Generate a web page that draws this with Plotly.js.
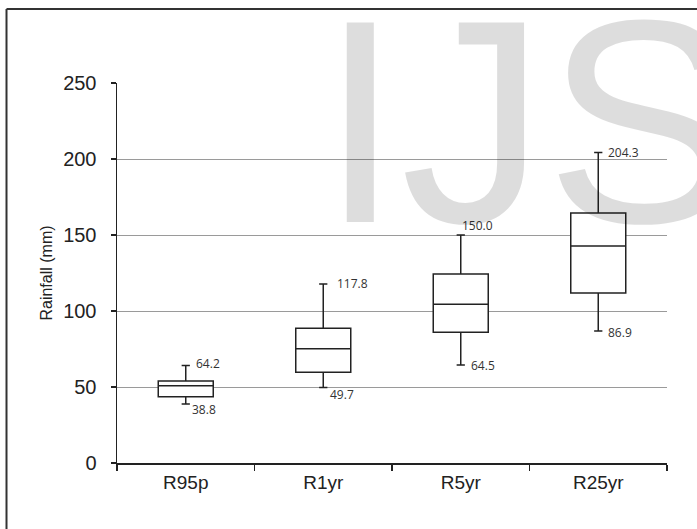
<!DOCTYPE html>
<html>
<head>
<meta charset="utf-8">
<script src="https://cdn.plot.ly/plotly-3.0.1.min.js"></script>
<style>html,body{margin:0;padding:0;background:#fff;}#chart{width:697px;height:529px;}</style>
</head>
<body>
<div id="chart"></div>
<script>
// Data
const categories = ["R95p", "R1yr", "R5yr", "R25yr"];
const lowerWhisker = [38.8, 49.7, 64.5, 86.9];
const q1Values = [43.6, 59.7, 86.0, 111.8];
const medianValues = [50.9, 75.2, 104.4, 142.8];
const q3Values = [53.9, 88.6, 124.3, 164.5];
const upperWhisker = [64.2, 117.8, 150.0, 204.3];
const yTickValues = [0, 50, 100, 150, 200, 250];

// label offsets (pixels) for whisker value labels: [xshift, yshift]
const upperLabelShift = [[8, 2], [12, 0], [-1, 10], [8, 0]];
const lowerLabelShift = [[4, -5], [5, -7], [8, -1], [8, -2]];

const trace = {
  type: "box",
  x: categories,
  q1: q1Values,
  median: medianValues,
  q3: q3Values,
  lowerfence: lowerWhisker,
  upperfence: upperWhisker,
  width: 0.4,
  whiskerwidth: 0.15,
  fillcolor: "#ffffff",
  line: { color: "#222222", width: 1.5 },
  hoverinfo: "skip",
  showlegend: false
};

const annotations = [];
categories.forEach((c, i) => {
  annotations.push({
    xref: "x", yref: "y", x: c, y: upperWhisker[i],
    text: upperWhisker[i].toFixed(1), showarrow: false,
    xanchor: "left", yanchor: "middle",
    xshift: upperLabelShift[i][0], yshift: upperLabelShift[i][1],
    font: { family: "Open Sans, sans-serif", size: 12, color: "#333333" }
  });
  annotations.push({
    xref: "x", yref: "y", x: c, y: lowerWhisker[i],
    text: lowerWhisker[i].toFixed(1), showarrow: false,
    xanchor: "left", yanchor: "middle",
    xshift: lowerLabelShift[i][0], yshift: lowerLabelShift[i][1],
    font: { family: "Open Sans, sans-serif", size: 12, color: "#333333" }
  });
});
// watermark
annotations.push({
  xref: "paper", yref: "paper", x: 0.3655, y: 0.9,
  xanchor: "left", yanchor: "middle",
  text: "IJS", showarrow: false,
  font: { family: "Liberation Sans, Arial, sans-serif", size: 290, color: "rgba(0,0,0,0.135)" }
});

const layout = {
  width: 697, height: 529,
  margin: { l: 117, r: 30, t: 83, b: 66 },
  paper_bgcolor: "#ffffff", plot_bgcolor: "#ffffff",
  font: { family: "Liberation Sans, Arial, sans-serif", color: "#222222" },
  xaxis: {
    type: "category",
    range: [-0.5, 3.5],
    showline: true, linecolor: "#222222", linewidth: 1.5,
    ticks: "outside", tickson: "boundaries", ticklen: 6, tickcolor: "#222222", tickwidth: 1.5,
    showgrid: false, zeroline: false,
    tickfont: { size: 19, color: "#222222" },
    ticklabelstandoff: 2
  },
  yaxis: {
    range: [0, 250],
    tickvals: yTickValues,
    showline: true, linecolor: "#222222", linewidth: 1.5,
    ticks: "outside", ticklen: 5, tickcolor: "#222222", tickwidth: 1.5,
    showgrid: true, gridcolor: "#9a9a9a", gridwidth: 1,
    zeroline: false,
    tickfont: { size: 20, color: "#222222" },
    ticklabelstandoff: 10,
    title: { text: "Rainfall (mm)", font: { size: 16, color: "#222222" }, standoff: 6 }
  },
  shapes: [
    { type: "line", xref: "paper", yref: "paper", x0: -0.2009, x1: 1.06, y0: 1.1947, y1: 1.1947,
      line: { color: "#333333", width: 2 } },
    { type: "line", xref: "paper", yref: "paper", x0: -0.2009, x1: -0.2009, y0: 1.1947, y1: -0.2,
      line: { color: "#333333", width: 2 } }
  ],
  annotations: annotations
};

Plotly.newPlot("chart", [trace], layout, { displayModeBar: false, staticPlot: true });
</script>
</body>
</html>
